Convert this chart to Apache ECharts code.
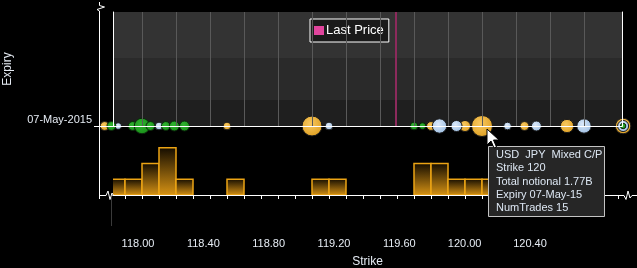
<!DOCTYPE html>
<html><head><meta charset="utf-8">
<script src="https://cdn.jsdelivr.net/npm/echarts@6/dist/echarts.min.js"></script>
<style>html,body{margin:0;padding:0;background:#000;}#c{width:637px;height:268px;}</style>
</head><body><div id="c"></div>
<script>
// ---- data ----
const expiries = ['07-May-2015'];
const callStrikes  = [117.82, 117.945, 118.00, 118.05, 118.14, 118.19, 118.25, 119.60, 119.65, 120.83];
const callNotional = [314, 314, 961, 314, 314, 397, 397, 240, 175, 120];
const putStrikes   = [117.86, 118.10, 119.10, 119.75, 119.85, 120.15, 120.32, 120.60, 120.83];
const putNotional  = [175, 240, 240, 829, 490, 240, 397, 829, 490];
const mixedStrikes  = [117.78, 118.50, 119.00, 119.70, 119.90, 120.00, 120.25, 120.50, 120.83];
const mixedNotional = [314, 240, 1589, 314, 490, 1770, 314, 706, 961];
const histBinStart = [117.8, 117.9, 118.0, 118.1, 118.2, 118.5, 119.0, 119.1, 119.6, 119.7, 119.8, 119.9, 120.0];
const histCounts   = [1, 1, 2, 3, 1, 1, 1, 1, 2, 2, 1, 1, 1];
const lastPrice = 119.494;
const gridStrikes = [118.0,118.2,118.4,118.6,118.8,119.0,119.2,119.4,119.6,119.8,120.0,120.2,120.4,120.6];
const tickStrikes = [117.9,118.0,118.1,118.2,118.3,118.4,118.5,118.6,118.7,118.8,118.9,119.0,119.1,119.2,119.3,119.4,119.5,119.6,119.7,119.8,119.9,120.0,120.1,120.2,120.3,120.4,120.5,120.6,120.7,120.8];
const strikeLabels = [118.00, 118.40, 118.80, 119.20, 119.60, 120.00, 120.40];
const tooltipLines = ['USD  JPY  Mixed C/P', 'Strike 120', 'Total notional 1.77B', 'Expiry 07-May-15', 'NumTrades 15'];

// ---- chart ----
const FONT = "'Liberation Sans', Arial, sans-serif";
const XMIN = 117.8294, XMAX = 120.8235;
const SIZE_K = 0.5;
const chart = echarts.init(document.getElementById('c'), null, {renderer: 'canvas'});

function radial(c0, c1) {
  return new echarts.graphic.RadialGradient(0.42, 0.38, 0.8, [{offset: 0, color: c0}, {offset: 1, color: c1}]);
}
function bubbles(strikes, notional) {
  return strikes.map((s, i) => [s, 0, notional[i]]);
}
const axisHidden = {axisLine: {show: false}, axisTick: {show: false}, axisLabel: {show: false}, splitLine: {show: false}};
const whiteLine = {show: true, lineStyle: {color: '#ffffff', width: 1}};

const option = {
  animation: false,
  backgroundColor: '#000',
  textStyle: {fontFamily: FONT},
  legend: {
    left: 310, top: 19, padding: [5, 5, 5, 4],
    borderColor: '#ffffff', borderWidth: 1, backgroundColor: '#1a1a1a',
    itemWidth: 10, itemHeight: 9, itemGap: 4,
    textStyle: {color: '#ffffff', fontSize: 13, fontFamily: FONT, padding: [0, 0, 0, -3]},
    data: [{name: 'Last Price', icon: 'rect', itemStyle: {color: '#e0449c'}}]
  },
  grid: [
    {left: 113, top: 12, width: 509, height: 114, outerBoundsMode: 'none', containLabel: false},
    {left: 113, top: 140, width: 509, height: 55, outerBoundsMode: 'none', containLabel: false},
    {left: 72.7, top: 200, width: 522.6, height: 30, outerBoundsMode: 'none', containLabel: false}
  ],
  xAxis: [
    {gridIndex: 0, type: 'value', min: XMIN, max: XMAX, position: 'bottom', z: 5, axisLine: whiteLine, axisTick: {show: false}, axisLabel: {show: false}, splitLine: {show: false}},
    {gridIndex: 0, type: 'value', min: XMIN, max: XMAX, position: 'top', z: 5, axisLine: whiteLine, axisTick: {show: false}, axisLabel: {show: false}, splitLine: {show: false}},
    {gridIndex: 1, type: 'value', min: XMIN, max: XMAX, position: 'top', z: 5, axisLine: whiteLine, axisTick: {show: false}, axisLabel: {show: false}, splitLine: {show: false}},
    {gridIndex: 1, type: 'value', min: XMIN, max: XMAX, position: 'bottom', z: 5, axisLine: whiteLine,
      axisTick: {show: true, customValues: tickStrikes, length: 4, lineStyle: {color: '#ffffff'}},
      axisLabel: {show: false}, splitLine: {show: false},
      name: 'Strike', nameLocation: 'middle', nameGap: 61,
      nameTextStyle: {color: '#e6ecf4', fontSize: 12, fontFamily: FONT}},
    {gridIndex: 2, type: 'value', min: 117.6, max: 120.8,
      axisLine: {show: false}, axisTick: {show: false}, splitLine: {show: false},
      axisLabel: {show: true, customValues: strikeLabels, margin: 8, color: '#e6ecf4', fontSize: 11, fontFamily: FONT,
        formatter: v => Number(v).toFixed(2)}}
  ],
  yAxis: [
    {gridIndex: 0, type: 'value', min: 0, max: 114, position: 'left', z: 5, axisLine: whiteLine,
      axisTick: {show: true, customValues: [0], length: 19, lineStyle: {color: '#ffffff'}},
      axisLabel: {show: true, customValues: [0], margin: 21, color: '#e6ecf4', fontSize: 11, fontFamily: FONT,
        verticalAlign: 'bottom', lineHeight: 12, formatter: v => expiries[0]},
      splitLine: {show: false},
      name: 'Expiry', nameLocation: 'middle', nameGap: 99, nameRotate: 90,
      nameTextStyle: {color: '#e6ecf4', fontSize: 12, fontFamily: FONT}},
    {gridIndex: 0, type: 'value', min: 0, max: 114, position: 'right', z: 5, axisLine: whiteLine, axisTick: {show: false}, axisLabel: {show: false}, splitLine: {show: false}},
    Object.assign({gridIndex: 1, type: 'value', min: 0, max: 3.5}, axisHidden),
    Object.assign({gridIndex: 2, type: 'value', min: 0, max: 1}, axisHidden)
  ],
  series: [
    {
      type: 'line', xAxisIndex: 0, yAxisIndex: 0, data: [], z: 1, silent: true,
      markArea: {silent: true, data: [
        [{yAxis: 68, itemStyle: {color: '#333333'}}, {yAxis: 114}],
        [{yAxis: 26, itemStyle: {color: '#2a2a2a'}}, {yAxis: 68}],
        [{yAxis: 0, itemStyle: {color: '#1f1f1f'}}, {yAxis: 26}]
      ]},
      markLine: {silent: true, symbol: 'none', label: {show: false},
        lineStyle: {color: '#595959', width: 1, type: 'solid'},
        data: gridStrikes.map(v => ({xAxis: v}))}
    },
    {
      name: 'Last Price', type: 'line', xAxisIndex: 0, yAxisIndex: 0, z: 2,
      data: [[lastPrice, 0], [lastPrice, 114]], symbol: 'none',
      lineStyle: {color: '#8c2a5c', width: 2}
    },
    {
      name: 'Mixed', type: 'scatter', xAxisIndex: 0, yAxisIndex: 0, z: 3, clip: false,
      data: bubbles(mixedStrikes, mixedNotional),
      symbolSize: v => SIZE_K * Math.sqrt(v[2]),
      itemStyle: {color: radial('#f8c860', '#d99612'), borderColor: '#1a1a1a', borderWidth: 1, opacity: 1}
    },
    {
      name: 'Put', type: 'scatter', xAxisIndex: 0, yAxisIndex: 0, z: 3, clip: false,
      data: bubbles(putStrikes, putNotional),
      symbolSize: v => SIZE_K * Math.sqrt(v[2]),
      itemStyle: {color: radial('#dceafa', '#8cb2dc'), borderColor: '#1a1a1a', borderWidth: 1, opacity: 1}
    },
    {
      name: 'Call', type: 'scatter', xAxisIndex: 0, yAxisIndex: 0, z: 3, clip: false,
      data: bubbles(callStrikes, callNotional),
      symbolSize: v => SIZE_K * Math.sqrt(v[2]),
      itemStyle: {color: radial('#30b430', '#128412'), borderColor: '#0a240a', borderWidth: 1, opacity: 1}
    },
    {
      type: 'custom', xAxisIndex: 3, yAxisIndex: 2, clip: true, z: 2,
      data: histBinStart.map((s, i) => [s, histCounts[i]]),
      encode: {x: 0, y: 1},
      renderItem: function (params, api) {
        const s = api.value(0), c = api.value(1);
        const p0 = api.coord([s, c]);
        const p1 = api.coord([s + 0.1, 0]);
        return {
          type: 'rect',
          shape: {x: p0[0], y: p0[1], width: p1[0] - p0[0], height: p1[1] - p0[1]},
          style: {
            fill: new echarts.graphic.LinearGradient(0, 0, 0, 1, [{offset: 0, color: '#120b00'}, {offset: 1, color: '#d99414'}]),
            stroke: '#eca414', lineWidth: 1.5
          }
        };
      }
    }
  ],
  graphic: [
    {type: 'polyline', silent: true, z: 10, shape: {points: [[99.5, 2], [99.5, 5.5], [104.5, 7], [97, 9.5], [99.5, 11], [99.5, 199]]}, style: {stroke: '#ffffff', lineWidth: 1, fill: null}},
    {type: 'polyline', silent: true, z: 10, shape: {points: [[99, 195.5], [106, 195.5], [108, 191], [110, 199.5], [112, 193], [113.5, 195.5]]}, style: {stroke: '#ffffff', lineWidth: 1, fill: null}},
    {type: 'polyline', silent: true, z: 10, shape: {points: [[622, 195.5], [624, 195.5], [626, 199.5], [628, 191], [630, 198], [632, 195.5], [637, 195.5]]}, style: {stroke: '#ffffff', lineWidth: 1, fill: null}},
    {type: 'line', silent: true, z: 10, shape: {x1: 111.5, y1: 197, x2: 111.5, y2: 226}, style: {stroke: '#3a3a3a', lineWidth: 1}},
    {
      type: 'group', left: 488, top: 146, zlevel: 2, z: 20,
      children: [
        {type: 'rect', zlevel: 2, z: 20, shape: {x: 0.5, y: 0.5, width: 116, height: 70}, style: {fill: '#262626', stroke: '#c4c4c4', lineWidth: 1}},
        {type: 'text', zlevel: 2, z: 21, x: 8, y: 2.5, style: {text: tooltipLines.join('\n'), fill: '#dde7f3', font: '11px ' + FONT, lineHeight: 13.3}}
      ]
    },
    {type: 'polygon', zlevel: 3, z: 30, silent: true,
      shape: {points: [[487, 129], [487, 145], [491, 141], [494, 148], [496.5, 147], [493.5, 140], [499, 140]]},
      style: {fill: '#ffffff', stroke: '#000000', lineWidth: 1}}
  ]
};
chart.setOption(option);
</script>
</body></html>
